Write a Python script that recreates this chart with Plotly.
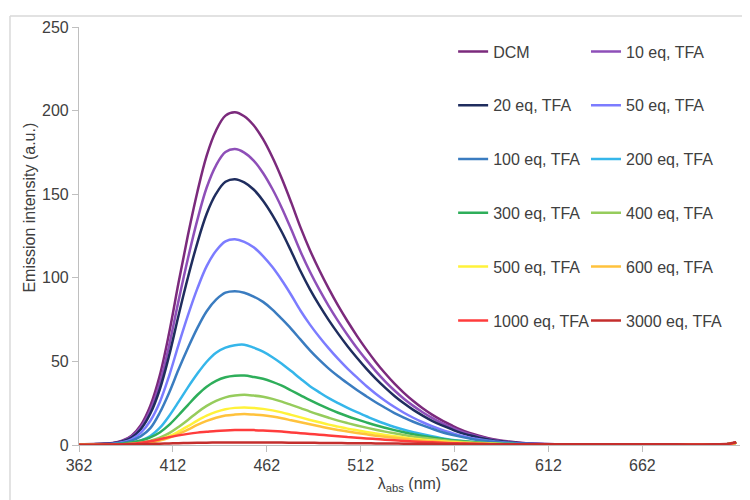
import plotly.graph_objects as go

wavelength = [362, 370, 380, 385, 390, 395, 400, 405, 410, 415, 420, 425, 430, 435, 440, 445, 450, 455,
              460, 465, 470, 475, 480, 485, 490, 495, 500, 505, 510, 515, 520, 525, 530, 535, 540, 545,
              550, 555, 560, 565, 570, 575, 580, 585, 590, 595, 600, 610, 625, 640, 660, 680, 700, 708, 712]

dcm = [0.5, 0.6, 1.2, 2.6, 5.6, 12, 23.5, 41.5, 67, 97, 125.4, 151.2, 173.1, 188.1, 197, 199, 196.6, 191.2,
       182.9, 172.1, 159.4, 145.1, 130, 116.5, 104.5, 93.5, 83.3, 74, 65.3, 57.2, 49.7, 42.9, 36.7, 31.2, 26.3, 22,
       18.2, 14.9, 12, 9.3, 7.2, 5.5, 4.1, 3, 2.2, 1.6, 1.1, 0.6, 0.4, 0.4, 0.3, 0.3, 0.3, 0.6, 1.5]
eq10 = [0.5, 0.5, 1.1, 2.3, 5, 10.7, 20.9, 36.9, 59.6, 86.2, 111.5, 134.5, 154, 167.3, 175.2, 177, 174.9, 170.1,
        162.7, 153.1, 141.8, 129, 115.6, 103.6, 92.9, 83.1, 74.1, 65.8, 58, 50.9, 44.2, 38.1, 32.6, 27.7, 23.4, 19.6,
        16.2, 13.2, 10.7, 8.3, 6.4, 4.9, 3.6, 2.7, 2, 1.4, 1.0, 0.6, 0.4, 0.35, 0.3, 0.3, 0.3, 0.6, 1.5]
eq20 = [0.4, 0.5, 1.0, 2.1, 4.5, 9.6, 18.8, 33.2, 53.5, 77.5, 100.2, 120.8, 138.3, 150.3, 157.4, 159, 157.1, 152.8,
        146.1, 137.5, 127.4, 115.9, 103.9, 93.1, 83.5, 74.7, 66.6, 59.1, 52.2, 45.7, 39.7, 34.3, 29.3, 24.9, 21, 17.6,
        14.5, 11.9, 9.6, 7.4, 5.8, 4.4, 3.3, 2.4, 1.8, 1.3, 0.9, 0.5, 0.4, 0.35, 0.3, 0.3, 0.3, 0.6, 1.5]
eq50 = [0.3, 0.4, 0.75, 1.6, 3.4, 7.4, 14.5, 25.6, 41.4, 59.9, 77.5, 93.5, 107, 116.2, 121.8, 123, 121.5, 118.2,
        113, 106.4, 98.5, 89.7, 80.3, 72, 64.6, 57.8, 51.5, 45.7, 40.4, 35.3, 30.7, 26.5, 22.7, 19.3, 16.3, 13.6,
        11.2, 9.2, 7.4, 5.7, 4.4, 3.4, 2.5, 1.9, 1.4, 1.0, 0.7, 0.45, 0.35, 0.3, 0.3, 0.3, 0.3, 0.6, 1.5]
eq100 = [0.3, 0.3, 0.55, 1.2, 2.6, 5.3, 10.1, 19.3, 31.3, 45.1, 58, 69.9, 80, 86.9, 91.1, 92, 91.1, 88.8,
         85.6, 81, 75.4, 69.5, 63, 56.6, 50.9, 45.7, 41.1, 36.9, 32.9, 29.2, 25.6, 22.3, 19.1, 16.4, 13.9, 11.7,
         9.7, 7.8, 6.3, 5, 3.9, 2.9, 2.3, 1.7, 1.3, 0.9, 0.65, 0.45, 0.35, 0.3, 0.3, 0.3, 0.3, 0.6, 1.4]
eq200 = [0.3, 0.3, 0.4, 0.7, 1.4, 2.8, 5.4, 10.2, 17.4, 25.8, 34.5, 42.6, 49.8, 55.2, 58.2, 59.7, 60, 58.2,
         55.8, 52.5, 48.6, 44.2, 39.6, 35.2, 31.5, 28, 25, 22.2, 19.6, 17.2, 14.8, 12.7, 10.8, 9.1, 7.7, 6.4,
         5.2, 4.1, 3.2, 2.5, 1.9, 1.5, 1.1, 0.8, 0.6, 0.5, 0.4, 0.3, 0.3, 0.3, 0.3, 0.3, 0.3, 0.6, 1.4]
eq300 = [0.3, 0.3, 0.4, 0.75, 1.45, 2.7, 4.6, 7.5, 12, 17.8, 23.9, 29.9, 34.9, 38.4, 40.5, 41.4, 41.5, 40.7,
         39.6, 37.8, 35.5, 32.6, 29.7, 26.8, 24.1, 21.6, 19.3, 17.2, 15.3, 13.5, 11.8, 10.3, 8.9, 7.6, 6.4, 5.4,
         4.5, 3.7, 2.9, 2.4, 1.9, 1.5, 1.1, 0.8, 0.6, 0.5, 0.4, 0.3, 0.3, 0.3, 0.3, 0.3, 0.3, 0.6, 1.4]
eq400 = [0.2, 0.3, 0.3, 0.45, 0.8, 1.5, 2.6, 4.35, 7.05, 10.8, 15, 19.5, 23.4, 26.4, 28.5, 29.55, 30, 29.55,
         28.8, 27.6, 25.95, 24, 22.05, 20, 18.1, 16.3, 14.6, 13.1, 11.7, 10.4, 9.15, 8, 7, 6, 5.1, 4.3,
         3.6, 3, 2.4, 2, 1.6, 1.3, 1, 0.75, 0.6, 0.45, 0.35, 0.3, 0.3, 0.3, 0.3, 0.3, 0.3, 0.6, 1.4]
eq500 = [0.2, 0.2, 0.25, 0.35, 0.6, 1.1, 1.95, 3.25, 5.3, 8.1, 11.25, 14.6, 17.55, 19.8, 21.4, 22.2, 22.5, 22.2,
         21.6, 20.7, 19.5, 18, 16.5, 15, 13.6, 12.2, 11, 9.8, 8.8, 7.8, 6.9, 6, 5.2, 4.5, 3.8, 3.2,
         2.7, 2.2, 1.8, 1.5, 1.2, 0.95, 0.75, 0.56, 0.45, 0.35, 0.3, 0.3, 0.3, 0.3, 0.3, 0.3, 0.3, 0.6, 1.4]
eq600 = [0.2, 0.2, 0.2, 0.3, 0.5, 0.9, 1.6, 2.7, 4.35, 6.65, 9.25, 12, 14.4, 16.3, 17.6, 18.2, 18.5, 18.2,
         17.8, 17, 16, 14.8, 13.6, 12.4, 11.2, 10, 9, 8.1, 7.2, 6.4, 5.6, 4.9, 4.3, 3.7, 3.1, 2.6,
         2.2, 1.8, 1.5, 1.2, 1, 0.8, 0.6, 0.5, 0.4, 0.35, 0.3, 0.3, 0.3, 0.3, 0.3, 0.3, 0.3, 0.6, 1.4]
eq1000 = [0.2, 0.2, 0.25, 0.4, 0.7, 1.35, 2.25, 3.4, 4.7, 5.75, 6.65, 7.4, 7.9, 8.4, 8.7, 8.9, 9, 8.9,
          8.7, 8.4, 8, 7.5, 7.1, 6.65, 6.2, 5.75, 5.3, 4.85, 4.4, 3.95, 3.55, 3.15, 2.8, 2.45, 2.15, 1.85,
          1.6, 1.35, 1.1, 0.95, 0.8, 0.65, 0.55, 0.45, 0.4, 0.35, 0.3, 0.3, 0.3, 0.3, 0.3, 0.3, 0.3, 0.6, 1.5]
eq3000 = [0.2, 0.2, 0.3, 0.35, 0.4, 0.5, 0.65, 0.8, 0.95, 1.1, 1.2, 1.3, 1.4, 1.45, 1.5, 1.5, 1.5, 1.5,
          1.5, 1.45, 1.45, 1.4, 1.35, 1.3, 1.25, 1.2, 1.15, 1.1, 1.05, 1.0, 0.95, 0.9, 0.85, 0.8, 0.75, 0.7,
          0.68, 0.65, 0.62, 0.6, 0.58, 0.55, 0.52, 0.5, 0.5, 0.48, 0.46, 0.45, 0.42, 0.4, 0.4, 0.4, 0.4, 0.8, 1.6]

series_labels = ["DCM", "10 eq, TFA", "20 eq, TFA", "50 eq, TFA", "100 eq, TFA", "200 eq, TFA",
                 "300 eq, TFA", "400 eq, TFA", "500 eq, TFA", "600 eq, TFA", "1000 eq, TFA", "3000 eq, TFA"]
series_values = [dcm, eq10, eq20, eq50, eq100, eq200, eq300, eq400, eq500, eq600, eq1000, eq3000]
series_colors = ["#7B2A7C", "#8E4FB8", "#1F2D5E", "#7C7CFF", "#3A7CC0", "#35B6EA",
                 "#2EAE5A", "#96CC5C", "#FFF23A", "#FFC23C", "#FF3C3C", "#C42E2C"]

x_ticks = [362, 412, 462, 512, 562, 612, 662]
y_ticks = [0, 50, 100, 150, 200, 250]

FONT = "Liberation Sans, Arial, sans-serif"

fig = go.Figure()
for i in range(len(series_labels)):
    fig.add_trace(go.Scatter(
        x=wavelength, y=series_values[i], mode="lines", name=series_labels[i],
        line=dict(color=series_colors[i], width=2.5, shape="spline", smoothing=1.0),
        legend="legend" if i % 2 == 0 else "legend2",
        legendgroup=series_labels[i], legendrank=i, hoverinfo="skip",
    ))

legend_common = dict(
    font=dict(family=FONT, size=16, color="#404040"),
    bgcolor="rgba(0,0,0,0)", traceorder="grouped", tracegroupgap=30,
    itemwidth=30, yanchor="top", xanchor="left", y=0.982, maxheight=460,
)

fig.update_layout(
    width=750, height=500,
    margin=dict(l=71, r=18, t=19, b=63),
    paper_bgcolor="white", plot_bgcolor="white",
    font=dict(family=FONT, size=15, color="#404040"),
    showlegend=True,
    legend=dict(x=0.566, **legend_common),
    legend2=dict(x=0.767, **legend_common),
    xaxis=dict(
        range=[362, 714], tickvals=x_ticks, ticktext=[str(v) for v in x_ticks],
        showgrid=False, zeroline=False, showline=True, linecolor="#BFBFBF", linewidth=1.2,
        ticks="outside", ticklen=6, tickcolor="#BFBFBF", automargin=False,
        tickfont=dict(family=FONT, size=16, color="#404040"),
        title=dict(text="λ<sub>abs</sub> (nm)", font=dict(family=FONT, size=16, color="#404040"), standoff=4),
    ),
    yaxis=dict(
        range=[0, 250], tickvals=y_ticks,
        showgrid=False, zeroline=False, showline=True, linecolor="#BFBFBF", linewidth=1.2,
        ticks="outside", ticklen=6, tickcolor="#BFBFBF", automargin=False,
        tickfont=dict(family=FONT, size=16, color="#404040"),
    ),
    annotations=[
        dict(text="Emission intensity (a.u.)", xref="paper", yref="paper", x=-0.075, y=0.569,
             textangle=-90, showarrow=False, xanchor="center", yanchor="middle",
             font=dict(family=FONT, size=16, color="#404040")),
    ],
    shapes=[
        dict(type="line", xref="paper", yref="paper", x0=-0.1044, x1=1.0076, y0=1.0263, y1=1.0263,
             line=dict(color="#D9D9D9", width=1.5)),
        dict(type="line", xref="paper", yref="paper", x0=-0.1044, x1=-0.1044, y0=1.0263, y1=-0.2,
             line=dict(color="#D9D9D9", width=1.5)),
    ],
)

fig.write_html("out.html")
